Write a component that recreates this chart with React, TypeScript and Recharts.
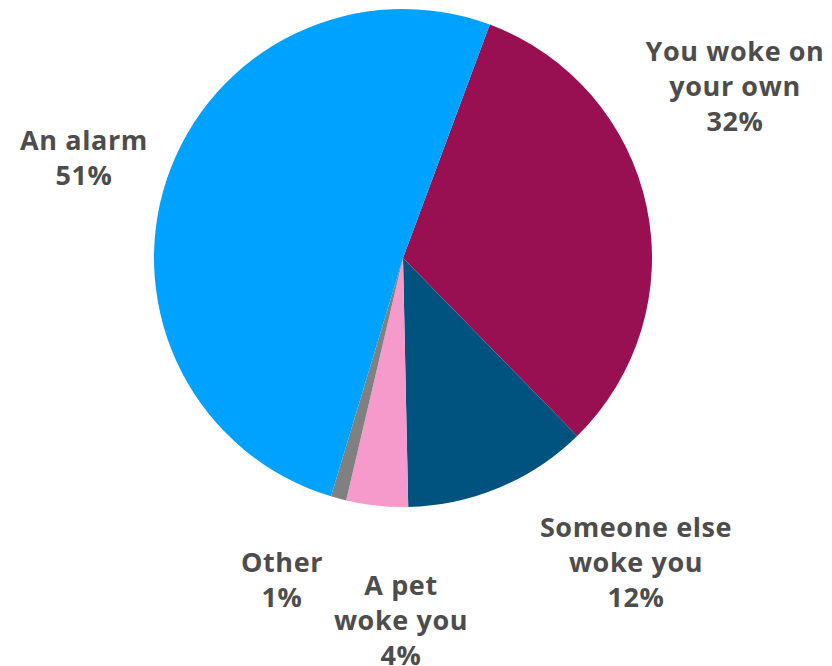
import React from "react";
import { PieChart, Pie, Cell } from "recharts";

const categories = ["You woke on your own", "Someone else woke you", "A pet woke you", "Other", "An alarm"];
const values = [32, 12, 4, 1, 51];
const labelLines = [["You woke on", "your own"], ["Someone else", "woke you"], ["A pet", "woke you"], ["Other"], ["An alarm"]];
const colors = ["#981052", "#00527F", "#F59ACB", "#808080", "#00A2FF"];
// label anchor offsets from pie centre (first baseline)
const labelOffsets = [[332, -197], [233, 279], [-2, 337], [-121, 314], [-319, -108]];

const data = categories.map((name, i) => ({ name, value: values[i] }));

const renderLabel = (props: any) => {
  const { cx, cy, index, value } = props;
  const [dx, dy] = labelOffsets[index];
  const lines = [...labelLines[index], `${value}%`];
  return (
    <text
      x={cx + dx}
      y={cy + dy}
      textAnchor="middle"
      fill="#4D4D4D"
      fontFamily="'Open Sans', sans-serif"
      fontWeight={700}
      fontSize={27}
      letterSpacing={0.6}
    >
      {lines.map((l, i) => (
        <tspan key={i} x={cx + dx} dy={i === 0 ? 0 : 35}>
          {l}
        </tspan>
      ))}
    </text>
  );
};

export default function App() {
  return (
    <div style={{ position: "absolute", left: 0, top: 0, background: "#fff" }}>
      <PieChart width={832} height={666} margin={{ top: 0, right: 0, bottom: 0, left: 0 }}>
        <Pie
          data={data}
          dataKey="value"
          nameKey="name"
          cx={403}
          cy={258}
          outerRadius={249}
          startAngle={69.6}
          endAngle={-290.4}
          stroke="none"
          label={renderLabel}
          labelLine={false}
          isAnimationActive={false}
        >
          {data.map((d, i) => (
            <Cell key={d.name} fill={colors[i]} />
          ))}
        </Pie>
      </PieChart>
    </div>
  );
}
